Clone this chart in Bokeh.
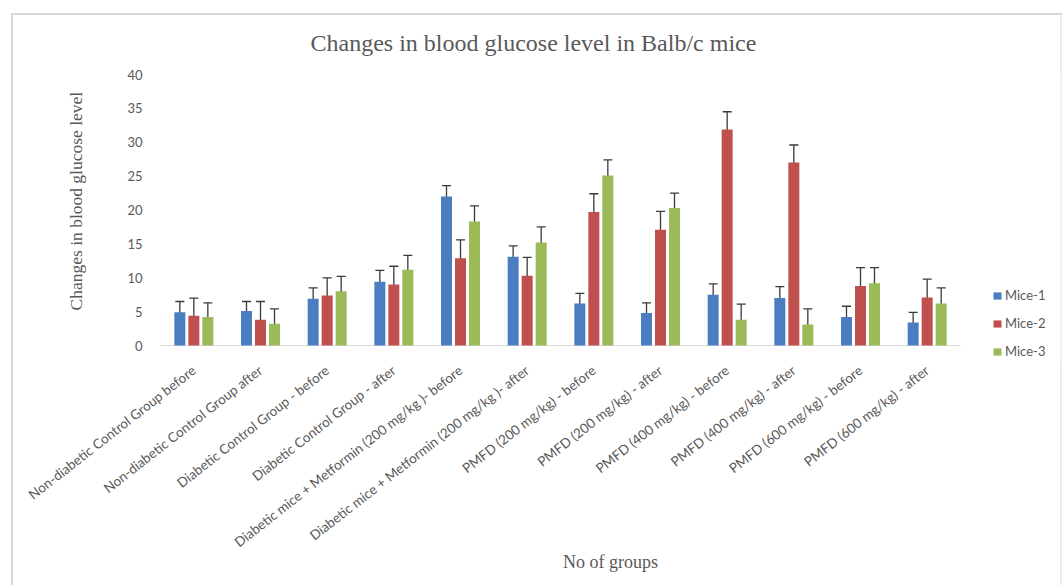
import math

from bokeh.embed import file_html
from bokeh.models import (ColumnDataSource, FixedTicker, Legend, LegendItem,
                          Range1d, SingleIntervalTicker, TeeHead, Title,
                          Whisker)
from bokeh.plotting import figure
from bokeh.resources import INLINE
from bokeh.transform import dodge

# Treatment groups (x categories)
groups = [
    "Non-diabetic Control Group before",
    "Non-diabetic Control Group after",
    "Diabetic Control Group - before",
    "Diabetic Control Group - after",
    "Diabetic mice + Metformin (200 mg/kg )- before",
    "Diabetic mice + Metformin (200 mg/kg )- after",
    "PMFD (200 mg/kg) - before",
    "PMFD (200 mg/kg) - after",
    "PMFD (400 mg/kg) - before",
    "PMFD (400 mg/kg) - after",
    "PMFD (600 mg/kg) - before",
    "PMFD (600 mg/kg) - after",
]

series_names = ["Mice-1", "Mice-2", "Mice-3"]

# Blood glucose level per mouse
mice1 = [4.9, 5.1, 6.9, 9.4, 22.0, 13.1, 6.2, 4.8, 7.5, 7.0, 4.2, 3.4]
mice2 = [4.4, 3.8, 7.4, 9.0, 12.9, 10.3, 19.7, 17.1, 31.9, 27.0, 8.8, 7.1]
mice3 = [4.2, 3.2, 8.0, 11.2, 18.3, 15.2, 25.1, 20.3, 3.8, 3.1, 9.2, 6.2]

# Error bar half-widths
err1 = [1.6, 1.4, 1.6, 1.7, 1.6, 1.6, 1.5, 1.5, 1.6, 1.7, 1.6, 1.5]
err2 = [2.6, 2.7, 2.6, 2.7, 2.7, 2.7, 2.7, 2.7, 2.6, 2.6, 2.7, 2.7]
err3 = [2.1, 2.2, 2.2, 2.1, 2.3, 2.3, 2.3, 2.2, 2.3, 2.3, 2.3, 2.3]

colors = ["#4a7ec0", "#c0504d", "#9bbb59"]
offsets = [-0.21, 0.0, 0.21]
TEXT = "#595959"

# category slots: one unit per group, centred on i + 0.5
centers = [i + 0.5 for i in range(len(groups))]

data = dict(group=groups, pos=centers)
for k, (vals, errs) in enumerate([(mice1, err1), (mice2, err2), (mice3, err3)]):
    data[f"v{k}"] = vals
    data[f"lo{k}"] = [v - e for v, e in zip(vals, errs)]
    data[f"hi{k}"] = [v + e for v, e in zip(vals, errs)]
src = ColumnDataSource(data=data)

# the x range leaves room on the right for the legend,
# the y range a little room under the zero line
p = figure(
    x_range=Range1d(0, len(groups) + 1.5),
    y_range=Range1d(-2.5, 40),
    width=1062,
    height=585,
    output_backend="svg",
    toolbar_location=None,
    min_border_left=160,
    min_border_right=2,
    min_border_top=74,
    min_border_bottom=223,
)
# thin chart-area edge lines, painted behind a transparent canvas border
p.styles = {
    "background-image": ("linear-gradient(#dadada, #dadada), "
                         "linear-gradient(#dadada, #dadada), "
                         "linear-gradient(#ececec, #ececec)"),
    "background-repeat": "no-repeat",
    "background-position": "11px 13px, 11px 13px, 1060px 13px",
    "background-size": "1051px 2px, 2px 572px, 2px 572px",
}
p.outline_line_color = None
p.xgrid.visible = False
p.ygrid.visible = False
p.background_fill_color = "white"
p.border_fill_alpha = 0

# Chart title
p.title.text = "Changes in blood glucose level in Balb/c mice"
p.title.text_font = "Liberation Serif"
p.title.text_font_style = "normal"
p.title.text_font_size = "24px"
p.title.text_color = TEXT
p.title.align = "left"
p.title.offset = 150
p.title.standoff = 37

# zero line under the bars
p.segment(x0=[0], y0=[0], x1=[len(groups)], y1=[0], line_color="#d9d9d9", line_width=1)

renderers = []
for k in range(3):
    x = dodge("pos", offsets[k])
    r = p.vbar(x=x, top=f"v{k}", bottom=0, width=0.165, source=src,
               fill_color=colors[k], line_color=None)
    renderers.append(r)
    w = Whisker(
        source=src, base=dodge("pos", offsets[k]),
        upper=f"hi{k}", lower=f"lo{k}",
        line_color="#3a3a3a", line_width=1.3,
        upper_head=TeeHead(size=9, line_color="#3a3a3a", line_width=1.3),
        lower_head=TeeHead(size=9, line_color="#3a3a3a", line_width=1.3),
    )
    p.add_layout(w)

# Y axis
p.yaxis.ticker = SingleIntervalTicker(interval=5)
p.yaxis.bounds = (0, 40)
p.yaxis.axis_line_color = None
p.yaxis.major_tick_line_color = None
p.yaxis.minor_tick_line_color = None
p.yaxis.major_label_text_font = "Lato"
p.yaxis.major_label_text_font_size = "13px"
p.yaxis.major_label_text_color = TEXT
p.yaxis.major_label_standoff = 12

# Y axis title, set beside the tick labels
ytitle = Title(
    text="Changes in blood glucose level",
    align="left", offset=52, standoff=78,
    text_font="Liberation Serif", text_font_style="normal",
    text_font_size="17.5px", text_color=TEXT,
)
p.add_layout(ytitle, "left")

# X axis
p.xaxis.bounds = (0, len(groups))
p.xaxis.ticker = FixedTicker(ticks=centers)
p.xaxis.major_label_overrides = {c: g for c, g in zip(centers, groups)}
p.xaxis.axis_line_color = None
p.xaxis.major_tick_line_color = None
p.xaxis.minor_tick_line_color = None
p.xaxis.major_label_orientation = math.radians(38)
p.xaxis.major_label_text_font = "Lato"
p.xaxis.major_label_text_font_size = "13.5px"
p.xaxis.major_label_text_color = TEXT
p.xaxis.major_label_standoff = 0
p.xaxis.axis_label = "No of groups"
p.xaxis.axis_label_text_font = "Liberation Serif"
p.xaxis.axis_label_text_font_style = "normal"
p.xaxis.axis_label_text_font_size = "18px"
p.xaxis.axis_label_text_color = TEXT
p.xaxis.axis_label_standoff = -7

legend = Legend(
    items=[LegendItem(label=n, renderers=[r]) for n, r in zip(series_names, renderers)],
    location=(832, 3),
    orientation="vertical",
    glyph_width=10, glyph_height=9,
    label_standoff=3, spacing=12, padding=0, margin=0,
    label_text_font="Lato", label_text_font_size="13px",
    label_text_color=TEXT,
    border_line_color=None, background_fill_alpha=0,
)
p.add_layout(legend, "center")

open("out.html", "w").write(file_html(p, INLINE))
